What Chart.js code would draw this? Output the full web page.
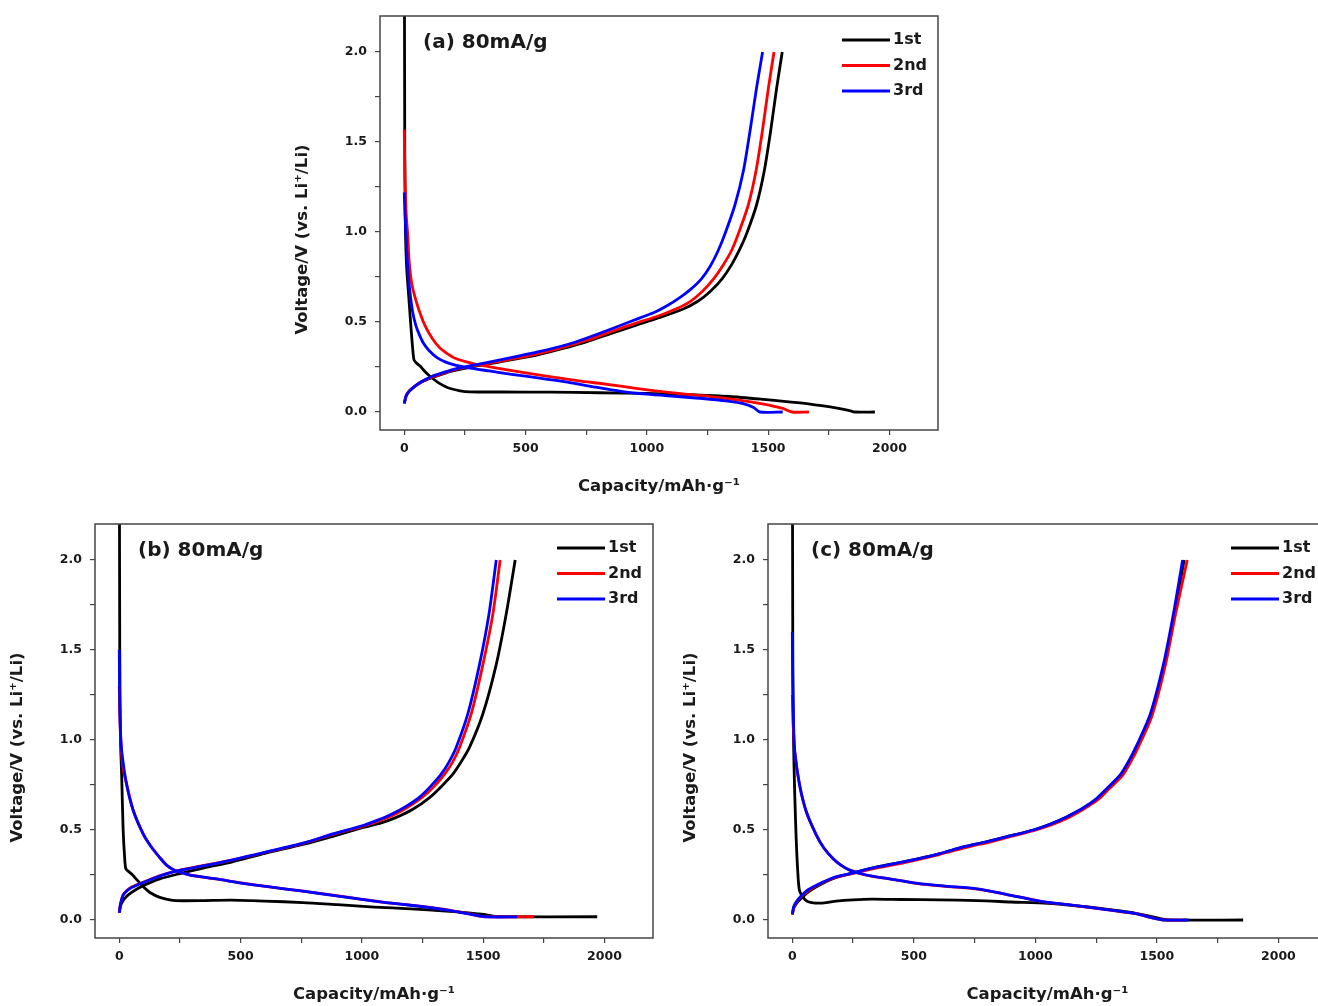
<!DOCTYPE html>
<html><head><meta charset="utf-8">
<script src="https://cdn.jsdelivr.net/npm/chart.js@4/dist/chart.umd.min.js"></script>
<style>
html,body{margin:0;padding:0;background:#fff;overflow:hidden;width:1318px;height:1006px;position:relative}
canvas{position:absolute;display:block}
</style></head><body>
<canvas id="ca" width="670" height="500" style="left:280px;top:0px"></canvas>
<canvas id="cb" width="670" height="500" style="left:-5px;top:508px"></canvas>
<canvas id="cc" width="671" height="500" style="left:668px;top:508px"></canvas>
<script>
// ---------- data ----------
const cycleLabels = ['1st', '2nd', '3rd'];
const panelNotes = ['(a) 80mA/g', '(b) 80mA/g', '(c) 80mA/g'];
const xTicks = [0, 250, 500, 750, 1000, 1250, 1500, 1750, 2000];
const xTickLabels = ['0', '', '500', '', '1000', '', '1500', '', '2000'];
const yTicks = [0, 0.25, 0.5, 0.75, 1.0, 1.25, 1.5, 1.75, 2.0];
const yTickLabels = ['0.0', '', '0.5', '', '1.0', '', '1.5', '', '2.0'];
const xTitle = 'Capacity/mAh\u00B7g\u207B\u00B9';
const yTitle = 'Voltage/V (vs. Li\u207A/Li)';

// panel (a)  [capacity mAh/g, voltage V]
const a1Dis = [[0,3.0],[2,1.5],[5,1.0],[10,0.8],[18,0.65],[26,0.5],[33,0.38],[40,0.29],[50,0.272],[65,0.255],[85,0.225],[105,0.2],[140,0.163],[180,0.135],[230,0.118],[270,0.112],[400,0.111],[600,0.11],[800,0.107],[1000,0.103],[1200,0.095],[1340,0.086],[1480,0.07],[1620,0.052],[1720,0.035],[1790,0.02],[1840,0.006],[1856,0.0],[1940,0.0]];
const a1Chg = [[0,0.05],[8,0.09],[20,0.115],[40,0.138],[70,0.165],[113,0.19],[160,0.212],[200,0.228],[290,0.254],[380,0.275],[450,0.292],[550,0.318],[650,0.352],[750,0.39],[850,0.435],[950,0.48],[1050,0.524],[1150,0.572],[1210,0.615],[1260,0.668],[1310,0.74],[1350,0.82],[1385,0.91],[1411,0.99],[1452,1.15],[1484,1.34],[1510,1.56],[1535,1.8],[1558,2.0]];
const a2Dis = [[0,1.57],[3,1.3],[8,1.1],[14,0.99],[20,0.84],[30,0.72],[48,0.62],[70,0.53],[89,0.47],[115,0.41],[144,0.36],[180,0.322],[212,0.297],[260,0.277],[308,0.262],[400,0.24],[513,0.215],[620,0.193],[719,0.173],[819,0.157],[900,0.142],[1010,0.122],[1150,0.1],[1260,0.086],[1380,0.066],[1481,0.044],[1560,0.02],[1598,0.0],[1668,0.0]];
const a2Chg = [[0,0.05],[8,0.09],[20,0.117],[40,0.14],[70,0.167],[113,0.193],[160,0.215],[200,0.232],[290,0.257],[380,0.278],[450,0.296],[550,0.323],[650,0.357],[750,0.397],[850,0.445],[946,0.49],[1050,0.535],[1124,0.575],[1180,0.615],[1227,0.668],[1275,0.74],[1316,0.82],[1350,0.9],[1377,0.99],[1418,1.15],[1450,1.34],[1476,1.56],[1501,1.8],[1524,2.0]];
const a3Dis = [[0,1.22],[3,1.1],[7,0.99],[12,0.85],[20,0.71],[34,0.56],[48,0.48],[62,0.43],[80,0.38],[103,0.34],[135,0.302],[171,0.277],[210,0.26],[253,0.248],[350,0.228],[450,0.208],[550,0.19],[672,0.166],[780,0.14],[893,0.115],[1000,0.099],[1113,0.087],[1230,0.075],[1334,0.06],[1400,0.045],[1440,0.025],[1466,0.0],[1560,0.0]];
const a3Chg = [[0,0.046],[8,0.09],[20,0.115],[40,0.14],[70,0.168],[113,0.197],[160,0.219],[200,0.236],[290,0.262],[380,0.285],[450,0.305],[550,0.334],[672,0.375],[750,0.41],[850,0.46],[946,0.51],[1030,0.553],[1083,0.59],[1140,0.64],[1179,0.68],[1225,0.74],[1261,0.81],[1295,0.9],[1322,0.99],[1363,1.15],[1398,1.34],[1425,1.56],[1452,1.8],[1477,2.0]];

// panel (b)
const b1Dis = [[0,3.0],[2,1.5],[5,1.0],[10,0.8],[16,0.5],[22,0.35],[27,0.285],[38,0.27],[55,0.25],[75,0.22],[99,0.185],[130,0.15],[167,0.126],[213,0.111],[260,0.107],[350,0.108],[463,0.11],[600,0.105],[757,0.097],[900,0.085],[1051,0.072],[1200,0.062],[1346,0.05],[1440,0.04],[1493,0.032],[1540,0.022],[1566,0.018],[1970,0.018]];
const b1Chg = [[0,0.04],[6,0.08],[15,0.105],[30,0.13],[51,0.153],[80,0.178],[110,0.198],[170,0.23],[250,0.258],[350,0.29],[463,0.322],[600,0.37],[757,0.42],[880,0.465],[1005,0.514],[1080,0.54],[1142,0.57],[1210,0.615],[1279,0.68],[1330,0.745],[1375,0.81],[1410,0.88],[1444,0.96],[1499,1.146],[1554,1.42],[1595,1.70],[1632,2.0]];
const b2Dis = [[0,1.3],[3,1.1],[8,0.96],[15,0.85],[30,0.756],[58,0.607],[99,0.477],[130,0.41],[167,0.347],[195,0.305],[228,0.276],[270,0.258],[304,0.247],[400,0.228],[510,0.205],[620,0.184],[757,0.16],[880,0.138],[1000,0.115],[1100,0.097],[1200,0.083],[1346,0.058],[1440,0.035],[1493,0.02],[1520,0.018],[1710,0.018]];
const b2Chg = [[0,0.04],[5,0.09],[16,0.14],[30,0.163],[51,0.183],[99,0.21],[169,0.247],[243,0.275],[350,0.303],[463,0.333],[600,0.375],[757,0.425],[880,0.475],[1005,0.522],[1070,0.55],[1128,0.582],[1190,0.628],[1252,0.685],[1300,0.745],[1341,0.81],[1375,0.88],[1403,0.96],[1451,1.146],[1499,1.42],[1540,1.70],[1570,2.0]];
const b3Dis = [[0,1.5],[2,1.2],[5,1.05],[10,0.94],[30,0.756],[58,0.607],[99,0.477],[130,0.41],[167,0.347],[195,0.305],[228,0.276],[270,0.258],[304,0.246],[400,0.228],[510,0.204],[620,0.184],[757,0.16],[880,0.137],[1000,0.114],[1100,0.097],[1200,0.082],[1346,0.056],[1440,0.034],[1493,0.02],[1520,0.017],[1640,0.017]];
const b3Chg = [[0,0.04],[5,0.088],[16,0.138],[30,0.16],[51,0.18],[99,0.208],[169,0.245],[243,0.274],[350,0.302],[463,0.333],[600,0.376],[757,0.427],[880,0.478],[1005,0.525],[1065,0.555],[1122,0.588],[1180,0.63],[1238,0.683],[1285,0.745],[1327,0.81],[1360,0.88],[1389,0.96],[1437,1.146],[1485,1.42],[1524,1.70],[1554,2.0]];

// panel (c)
const c1Dis = [[0,3.0],[2,1.5],[5,1.0],[10,0.7],[16,0.45],[22,0.28],[29,0.167],[45,0.125],[60,0.105],[80,0.097],[109,0.094],[140,0.097],[181,0.105],[250,0.112],[326,0.116],[450,0.114],[600,0.112],[761,0.108],[900,0.1],[1051,0.092],[1160,0.08],[1268,0.065],[1350,0.05],[1413,0.037],[1470,0.022],[1514,0.008],[1545,0.0],[1855,0.0]];
const c1Chg = [[0,0.03],[6,0.066],[16,0.09],[35,0.118],[65,0.155],[99,0.185],[167,0.23],[236,0.256],[350,0.295],[471,0.327],[600,0.366],[700,0.405],[750,0.42],[790,0.432],[880,0.462],[992,0.5],[1060,0.532],[1132,0.574],[1199,0.622],[1256,0.676],[1303,0.738],[1352,0.806],[1388,0.885],[1420,0.97],[1476,1.14],[1531,1.42],[1572,1.70],[1612,2.0]];
const c2Dis = [[0,1.25],[3,1.1],[7,1.0],[10,0.936],[30,0.75],[58,0.6],[99,0.472],[130,0.4],[167,0.342],[200,0.305],[236,0.277],[304,0.249],[400,0.228],[510,0.204],[620,0.188],[761,0.172],[880,0.143],[1022,0.104],[1150,0.082],[1268,0.062],[1350,0.047],[1413,0.035],[1486,0.01],[1529,0.0],[1620,0.0]];
const c2Chg = [[0,0.03],[6,0.07],[16,0.098],[35,0.128],[65,0.162],[99,0.19],[167,0.232],[236,0.255],[350,0.29],[471,0.322],[600,0.362],[700,0.398],[750,0.415],[790,0.426],[880,0.457],[992,0.496],[1062,0.527],[1138,0.57],[1204,0.62],[1261,0.672],[1308,0.735],[1357,0.8],[1393,0.88],[1425,0.965],[1480,1.135],[1535,1.415],[1576,1.695],[1625,2.0]];
const c3Dis = [[0,1.6],[2,1.3],[5,1.1],[10,0.936],[30,0.75],[58,0.6],[99,0.472],[130,0.4],[167,0.342],[200,0.305],[236,0.277],[304,0.25],[400,0.229],[510,0.205],[620,0.189],[761,0.173],[880,0.143],[1022,0.104],[1150,0.083],[1268,0.062],[1350,0.048],[1413,0.036],[1486,0.01],[1529,0.0],[1630,0.0]];
const c3Chg = [[0,0.033],[6,0.075],[16,0.1],[35,0.132],[65,0.168],[99,0.193],[167,0.235],[236,0.258],[350,0.295],[471,0.327],[600,0.366],[700,0.405],[750,0.42],[790,0.432],[880,0.462],[992,0.5],[1060,0.532],[1130,0.574],[1196,0.622],[1253,0.676],[1300,0.738],[1349,0.806],[1385,0.885],[1417,0.97],[1472,1.14],[1527,1.42],[1568,1.70],[1606,2.0]];

// ---------- style ----------
const COLORS = ['#000000', '#ff0000', '#0000ff'];
const FONT = '"DejaVu Sans", "Liberation Sans", Arial, sans-serif';
const TXT = '#1a1a1a';
const AXC = '#444444';

Chart.defaults.font.family = FONT;
Chart.defaults.color = TXT;

const framePlugin = {
  id: 'frame',
  afterDatasetsDraw(chart) {
    const {ctx, chartArea: a} = chart;
    ctx.save();
    ctx.strokeStyle = AXC;
    ctx.lineWidth = 1.5;
    ctx.strokeRect(a.left, a.top, a.right - a.left, a.bottom - a.top);
    ctx.restore();
  }
};

const notePlugin = {
  id: 'note',
  afterDraw(chart, args, opts) {
    const {ctx, chartArea: a} = chart;
    ctx.save();
    ctx.fillStyle = TXT;
    ctx.textBaseline = 'middle';
    ctx.textAlign = 'left';
    ctx.font = 'bold 20px ' + FONT;
    ctx.fillText(opts.text, a.left + 43, a.top + 27);
    ctx.font = 'bold 16px ' + FONT;
    cycleLabels.forEach((lab, i) => {
      const y = a.top + 24 + i * 25.5;
      ctx.strokeStyle = COLORS[i];
      ctx.lineWidth = 3;
      ctx.beginPath();
      ctx.moveTo(a.right - 96, y);
      ctx.lineTo(a.right - 48, y);
      ctx.stroke();
      ctx.fillText(lab, a.right - 45, y);
    });
    ctx.restore();
  }
};

function toPts(arr) { return arr.map(p => ({x: p[0], y: p[1]})); }

function makeChart(id, note, curves) {
  const datasets = [];
  // later cycles first so that the 3rd cycle is drawn top-most (first dataset = top)
  for (let i = curves.length - 1; i >= 0; i--) {
    [curves[i][0], curves[i][1]].forEach(arr => {
      datasets.push({
        label: cycleLabels[i],
        data: toPts(arr),
        showLine: true,
        borderColor: COLORS[i],
        backgroundColor: COLORS[i],
        borderWidth: 2.8,
        pointRadius: 0,
        tension: 0.25
      });
    });
  }
  return new Chart(document.getElementById(id), {
    type: 'scatter',
    data: {datasets},
    options: {
      responsive: false,
      animation: false,
      events: [],
      layout: {padding: {left: 0, top: 16, right: 12, bottom: 0}},
      plugins: {legend: {display: false}, tooltip: {enabled: false}, note: {text: note}},
      scales: {
        x: {
          type: 'linear', min: -100, max: 2200,
          afterBuildTicks: s => { s.ticks = xTicks.map(v => ({value: v})); },
          afterFit: s => { s.height = 70; },
          ticks: {autoSkip: false, maxRotation: 0, padding: 6, color: TXT,
                  font: {size: 12.5, weight: 'bold'},
                  callback: (v, i) => xTickLabels[i]},
          grid: {drawOnChartArea: false, drawTicks: true, tickLength: 5, color: AXC, lineWidth: 1.2},
          border: {display: false},
          title: {display: true, text: xTitle, color: TXT, font: {size: 16.5, weight: 'bold'}, padding: {top: 0, bottom: 3}}
        },
        y: {
          type: 'linear', min: -0.1, max: 2.2,
          afterBuildTicks: s => { s.ticks = yTicks.map(v => ({value: v})); },
          afterFit: s => { s.width = 100; },
          ticks: {autoSkip: false, padding: 8, color: TXT,
                  font: {size: 12.5, weight: 'bold'},
                  callback: (v, i) => yTickLabels[i]},
          grid: {drawOnChartArea: false, drawTicks: true, tickLength: 5, color: AXC, lineWidth: 1.2},
          border: {display: false},
          title: {display: true, text: yTitle + '\u2003\u2003', color: TXT, font: {size: 16.5, weight: 'bold'}, padding: {top: 13, bottom: 0}}
        }
      }
    },
    plugins: [framePlugin, notePlugin]
  });
}

makeChart('ca', panelNotes[0], [[a1Dis, a1Chg], [a2Dis, a2Chg], [a3Dis, a3Chg]]);
makeChart('cb', panelNotes[1], [[b1Dis, b1Chg], [b2Dis, b2Chg], [b3Dis, b3Chg]]);
makeChart('cc', panelNotes[2], [[c1Dis, c1Chg], [c2Dis, c2Chg], [c3Dis, c3Chg]]);
</script>
</body></html>
